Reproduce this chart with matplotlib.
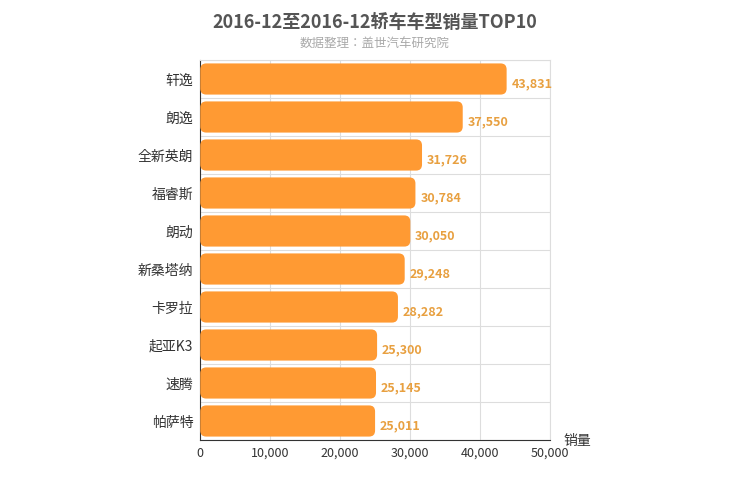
import matplotlib.pyplot as plt
from matplotlib import font_manager
from matplotlib.patches import FancyBboxPatch

cjk = sorted(set(f.name for f in font_manager.fontManager.ttflist if 'CJK' in f.name))
sans = [c for c in cjk if 'Sans' in c]
family = 'Noto Sans CJK SC' if 'Noto Sans CJK SC' in cjk else (sans[0] if sans else 'DejaVu Sans')
plt.rcParams['font.family'] = [family, 'DejaVu Sans']

models = ['轩逸', '朗逸', '全新英朗', '福睿斯', '朗动', '新桑塔纳', '卡罗拉', '起亚K3', '速腾', '帕萨特']
sales = [43831, 37550, 31726, 30784, 30050, 29248, 28282, 25300, 25145, 25011]
xticks = [0, 10000, 20000, 30000, 40000, 50000]

bar_color = '#FF9A33'
label_color = '#E8A040'

fig = plt.figure(figsize=(7.5, 5), dpi=100)
ax = fig.add_axes([0.267, 0.12, 0.466, 0.76])

n = len(models)
ax.set_xlim(0, 50000)
ax.set_ylim(n - 0.5, -0.5)

# rounded bars: radius in px -> data units
xpp = 50000 / 350.0
ypp = n / 380.0
h = 0.82
for i, v in enumerate(sales):
    box = FancyBboxPatch((0, i - h / 2), v, h,
                         boxstyle='round,pad=0,rounding_size=%f' % (6 * xpp),
                         mutation_aspect=ypp / xpp,
                         facecolor=bar_color, edgecolor='none', zorder=3)
    ax.add_patch(box)
    ax.text(v + 700, i + 0.12, f'{v:,}', color=label_color, fontsize=9,
            fontweight='bold', va='center', ha='left', zorder=4)

ax.set_yticks(range(n))
ax.set_yticklabels(models, fontsize=10, color='#333333')
ax.set_xticks(xticks)
ax.set_xticklabels([f'{t:,}' for t in xticks], fontsize=9, color='#333333')
ax.grid(True, axis='x', color='#DDDDDD', linewidth=0.8, zorder=0)
for y in range(n + 1):
    ax.axhline(y - 0.5, color='#DDDDDD', linewidth=0.8, zorder=0)
ax.tick_params(length=0, pad=5)
for s in ['top', 'right']:
    ax.spines[s].set_color('#DDDDDD')
ax.spines['left'].set_color('#333333')
ax.spines['bottom'].set_color('#333333')

ax.text(1.04, -0.02, '销量', transform=ax.transAxes, fontsize=10, color='#333333',
        ha='left', va='bottom')

fig.text(0.5, 0.955, '2016-12至2016-12轿车车型销量TOP10', ha='center', va='center',
         fontsize=13, fontweight='bold', color='#555555')
fig.text(0.5, 0.913, '数据整理：盖世汽车研究院', ha='center', va='center',
         fontsize=9, color='#AAAAAA')

fig.savefig('out.png', dpi=100)
